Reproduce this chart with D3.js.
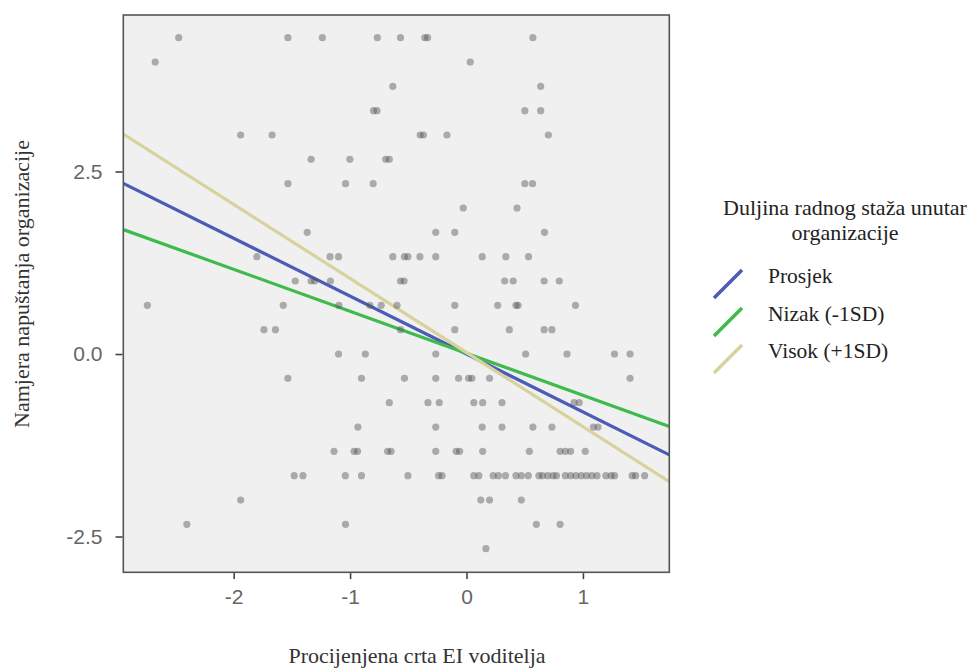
<!DOCTYPE html>
<html>
<head>
<meta charset="utf-8">
<script src="https://cdn.jsdelivr.net/npm/d3@7"></script>
<style>
  html, body { margin: 0; padding: 0; background: #ffffff; }
  svg { display: block; }
</style>
</head>
<body>
<svg id="chart" width="971" height="668"></svg>
<script>
// ---- data ----
const xTicks = [-2, -1, 0, 1];
const yTicks = [2.5, 0.0, -2.5];
const xDomain = [-2.948, 1.742];
const yDomain = [-2.99, 4.644];

const rowLevels = [4.333, 4.0, 3.667, 3.333, 3.0, 2.667, 2.333, 2.0, 1.667, 1.333, 1.0, 0.667, 0.333, 0,
  -0.333, -0.667, -1.0, -1.333, -1.667, -2.0, -2.333, -2.667];
const rowPoints = [
  [-2.472, -1.534, -1.238, -0.766, -0.567, -0.358, -0.334, 0.570],
  [-2.674, 0.032],
  [-0.633, 0.637],
  [-0.799, -0.769, 0.501, 0.637],
  [-1.940, -1.670, -0.398, -0.370, -0.168, 0.703],
  [-1.335, -1.002, -0.694, -0.663],
  [-1.534, -1.039, -0.802, 0.501, 0.567],
  [-0.028, 0.434],
  [-1.368, -0.264, -0.101, 0.670],
  [-1.801, -1.172, -1.099, -0.633, -0.533, -0.503, -0.400, -0.264, 0.135, 0.338, 0.533],
  [-1.471, -1.335, -1.305, -1.169, -0.567, -0.536, 0.328, 0.401, 0.667, 0.797],
  [-2.741, -1.574, -1.096, -0.830, -0.733, -0.597, -0.101, 0.268, 0.425, 0.443, 0.936],
  [-1.740, -1.641, -0.567, -0.101, 0.368, 0.667, 0.734],
  [-1.099, -0.869, -0.264, 0.508, 0.863, 1.271, 1.405],
  [-1.534, -0.902, -0.533, -0.264, -0.068, 0.018, 0.046, 0.198, 1.405],
  [-0.663, -0.331, -0.234, 0.063, 0.139, 0.305, 0.924, 0.968],
  [-0.933, -0.264, 0.135, 0.305, 0.570, 0.734, 1.090, 1.130],
  [-1.138, -0.966, -0.936, -0.678, -0.648, -0.264, -0.089, -0.059, 0.139, 0.540, 0.804, 0.849, 0.894, 1.020],
  [-1.480, -1.405, -1.041, -0.902, -0.503, -0.240, -0.210, 0.063, 0.106, 0.229, 0.274, 0.335, 0.425, 0.471,
   0.531, 0.622, 0.652, 0.698, 0.743, 0.773, 0.849, 0.894, 0.939, 0.985, 1.030, 1.076, 1.121, 1.197, 1.242,
   1.272, 1.423, 1.453, 1.530],
  [-1.940, 0.123, 0.198, 0.471],
  [-2.402, -1.039, 0.600, 0.804],
  [0.167]
];

const lineNames = ["Prosjek", "Nizak (-1SD)", "Visok (+1SD)"];
const lineSlopes = [-0.793, -0.575, -1.015];
const lineIntercepts = [0.0, 0.01, 0.02];
const lineColors = ["#4a5cb6", "#3fba4c", "#d8d29e"];

const legendTitle = ["Duljina radnog staža unutar", "organizacije"];
const xTitle = "Procijenjena crta EI voditelja";
const yTitle = "Namjera napuštanja organizacije";

// ---- layout ----
const plot = { left: 123.3, right: 669.3, top: 15, bottom: 572.3 };
const svg = d3.select("#chart");
const serif = "'Liberation Serif', 'Times New Roman', serif";

const x = d3.scaleLinear().domain(xDomain).range([plot.left, plot.right]);
const y = d3.scaleLinear().domain(yDomain).range([plot.bottom, plot.top]);

svg.append("defs").append("clipPath").attr("id", "clip")
  .append("rect")
  .attr("x", plot.left).attr("y", plot.top)
  .attr("width", plot.right - plot.left).attr("height", plot.bottom - plot.top);

// background
svg.append("rect")
  .attr("x", plot.left).attr("y", plot.top)
  .attr("width", plot.right - plot.left).attr("height", plot.bottom - plot.top)
  .attr("fill", "#f0f0f0");

const g = svg.append("g").attr("clip-path", "url(#clip)");

// regression lines
lineNames.forEach((name, i) => {
  const f = v => lineSlopes[i] * v + lineIntercepts[i];
  g.append("line")
    .attr("x1", x(xDomain[0])).attr("y1", y(f(xDomain[0])))
    .attr("x2", x(xDomain[1])).attr("y2", y(f(xDomain[1])))
    .attr("stroke", lineColors[i])
    .attr("stroke-width", 3.2);
});

// points
const pts = [];
rowLevels.forEach((lv, i) => rowPoints[i].forEach(px => pts.push([px, lv])));
g.selectAll("circle.pt").data(pts).enter().append("circle")
  .attr("class", "pt")
  .attr("cx", d => x(d[0]))
  .attr("cy", d => y(d[1]))
  .attr("r", 3.6)
  .attr("fill", "#555")
  .attr("fill-opacity", 0.45);

// frame
svg.append("rect")
  .attr("x", plot.left).attr("y", plot.top)
  .attr("width", plot.right - plot.left).attr("height", plot.bottom - plot.top)
  .attr("fill", "none")
  .attr("stroke", "#555")
  .attr("stroke-width", 1.6);

// axes
const xAxis = d3.axisBottom(x).tickValues(xTicks).tickFormat(d => String(d)).tickSize(6).tickPadding(10);
const yAxis = d3.axisLeft(y).tickValues(yTicks).tickFormat(d => d.toFixed(1)).tickSize(7).tickPadding(13);

const gx = svg.append("g").attr("transform", `translate(0,${plot.bottom + 0.8})`).call(xAxis);
const gy = svg.append("g").attr("transform", `translate(${plot.left - 0.8},0)`).call(yAxis);
[gx, gy].forEach(a => {
  a.select(".domain").remove();
  a.selectAll(".tick line").attr("stroke", "#444").attr("stroke-width", 1.6);
  a.selectAll(".tick text")
    .attr("fill", "#666")
    .style("font-family", "'Liberation Sans', Arial, sans-serif")
    .style("font-size", "21px");
});

// axis titles
svg.append("text")
  .attr("x", 417)
  .attr("y", 663)
  .attr("text-anchor", "middle")
  .style("font-family", serif)
  .style("font-size", "22px")
  .attr("fill", "#333")
  .text(xTitle);

svg.append("text")
  .attr("transform", `translate(29,284) rotate(-90)`)
  .attr("text-anchor", "middle")
  .style("font-family", serif)
  .style("font-size", "22px")
  .attr("fill", "#333")
  .text(yTitle);

// legend
const lg = svg.append("g");
legendTitle.forEach((t, i) => {
  lg.append("text")
    .attr("x", 845).attr("y", 215 + i * 25)
    .attr("text-anchor", "middle")
    .style("font-family", serif)
    .style("font-size", "22px")
    .attr("fill", "#222")
    .text(t);
});
const legendRowY = [283, 321, 358];
lineNames.forEach((name, i) => {
  const cy = legendRowY[i] + 1;
  lg.append("line")
    .attr("x1", 714).attr("y1", cy + 14)
    .attr("x2", 742).attr("y2", cy - 14)
    .attr("stroke", lineColors[i])
    .attr("stroke-width", 3.6);
  lg.append("text")
    .attr("x", 768).attr("y", legendRowY[i])
    .style("font-family", serif)
    .style("font-size", "21.5px")
    .attr("fill", "#222")
    .text(name);
});
</script>
</body>
</html>
